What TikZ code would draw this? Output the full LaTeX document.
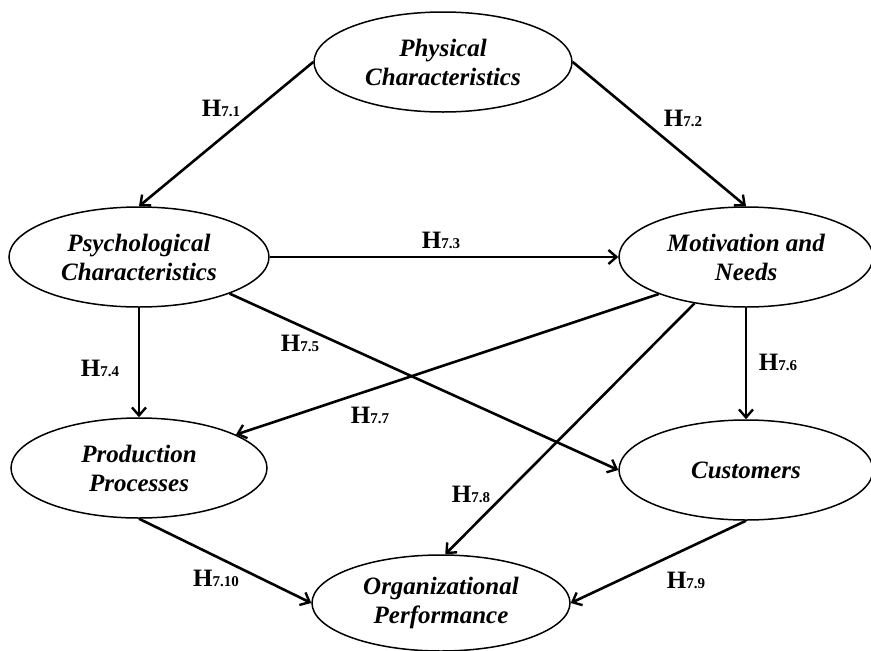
\documentclass[tikz,border=0pt]{standalone}
\usepackage{fontspec}
\setmainfont{Liberation Serif}
\usetikzlibrary{arrows.meta,shapes.geometric}
% small index after the H of each hypothesis label
\newcommand\hypidx[1]{{\fontsize{15}{15}\selectfont #1}}
\begin{document}
\begin{tikzpicture}[x=1pt,y=-1pt,
  construct/.style={ellipse, draw, line width=1.5pt, inner sep=0pt, align=center,
    font=\fontsize{25}{29}\selectfont\bfseries\itshape},
  link/.style={line width=2.6pt, -{Straight Barb[length=8pt,width=14pt,line width=2.4pt]}},
  hyp/.style={font=\fontsize{25}{25}\selectfont\bfseries, inner sep=0pt}
]
\useasboundingbox (0,0) rectangle (871,651);

% constructs
\node[construct, minimum width=258pt, minimum height=100pt] (phys) at (443,62) {Physical\\Characteristics};
\node[construct, minimum width=260pt, minimum height=100pt] (psy)  at (139,257) {Psychological\\Characteristics};
\node[construct, minimum width=254pt, minimum height=100pt] (mot)  at (746,257) {Motivation and\\Needs};
\node[construct, minimum width=256pt, minimum height=100pt] (prod) at (139,468) {Production\\Processes};
\node[construct, minimum width=254pt, minimum height=100pt] (cust) at (746,470) {Customers};
\node[construct, minimum width=258pt, minimum height=96pt]  (org)  at (441,603) {Organizational\\Performance};

% hypothesised paths
\draw[link] (phys.west) -- (psy.north);
\draw[link] (phys.east) -- (mot.north);
\draw[link] (psy.east) -- (mot.west);
\draw[link] (psy.south) -- (prod.north);
\draw[link] (psy.-22) -- (cust.west);
\draw[link] (mot.south) -- (cust.north);
\draw[link] (mot.-157) -- (prod.19);
\draw[link] (mot.-138) -- (org.85);
\draw[link] (cust.south) -- (org.east);
\draw[link] (prod.south) -- (org.west);

% path labels
\node[hyp] (h1)  at (221,108) {H\hypidx{7.1}};
\node[hyp] (h2)  at (683,118) {H\hypidx{7.2}};
\node[hyp] (h3)  at (441,240) {H\hypidx{7.3}};
\node[hyp] (h4)  at (100,368) {H\hypidx{7.4}};
\node[hyp] (h5)  at (300,343) {H\hypidx{7.5}};
\node[hyp] (h6)  at (778,362) {H\hypidx{7.6}};
\node[hyp] (h7)  at (370,415) {H\hypidx{7.7}};
\node[hyp] (h8)  at (471,494) {H\hypidx{7.8}};
\node[hyp] (h9)  at (686,580) {H\hypidx{7.9}};
\node[hyp] (h10) at (216,578) {H\hypidx{7.10}};
\end{tikzpicture}
\end{document}
